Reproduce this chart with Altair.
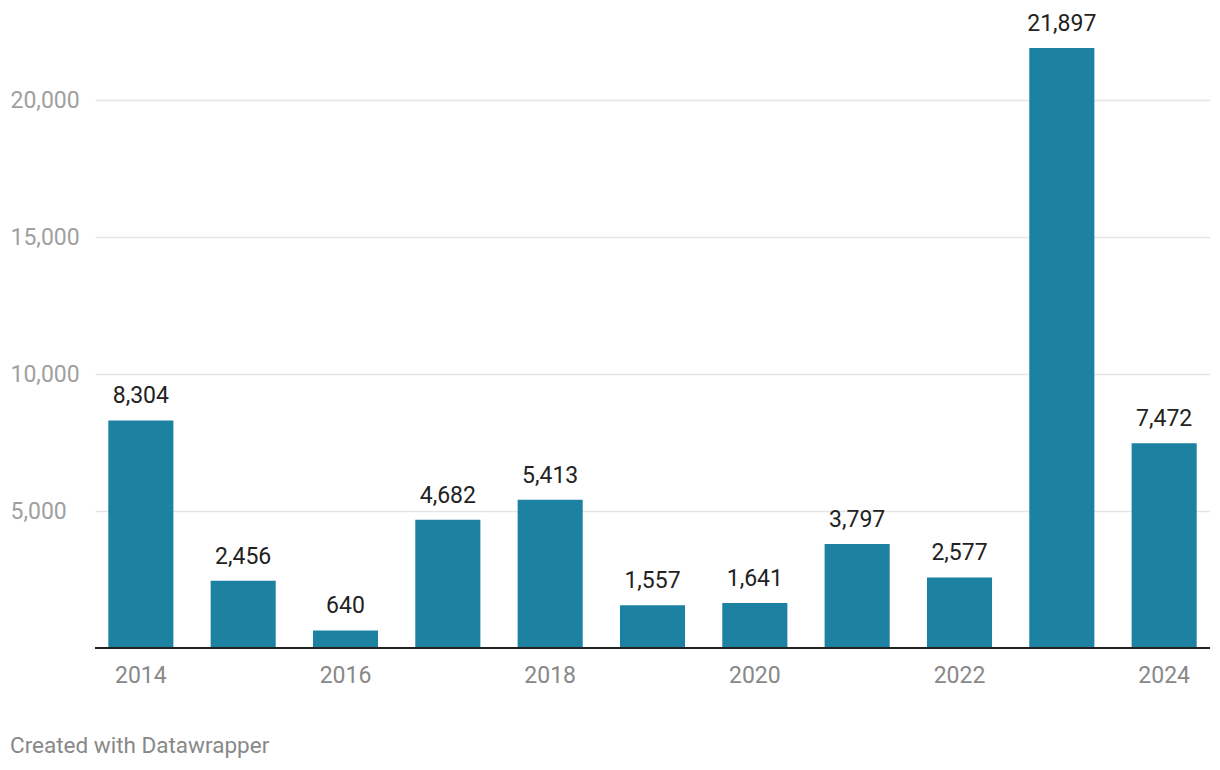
import altair as alt
import pandas as pd

years = ["2014", "2015", "2016", "2017", "2018", "2019", "2020", "2021", "2022", "2023", "2024"]
values = [8304, 2456, 640, 4682, 5413, 1557, 1641, 3797, 2577, 21897, 7472]
value_labels = ["8,304", "2,456", "640", "4,682", "5,413", "1,557", "1,641", "3,797", "2,577", "21,897", "7,472"]
x_tick_labels = ["2014", "2016", "2018", "2020", "2022", "2024"]
y_tick_values = [5000, 10000, 15000, 20000]

df = pd.DataFrame({"year": years, "value": values, "label": value_labels})

FONT = "Roboto"

x_enc = alt.X(
    "year:N",
    sort=years,
    scale=alt.Scale(paddingInner=0.364, paddingOuter=0.13),
    axis=alt.Axis(
        values=x_tick_labels, labelAngle=0, title=None, domain=False, ticks=False,
        labelFontSize=23, labelColor="#888888", labelPadding=16, labelFont=FONT, grid=False,
    ),
)
y_enc = alt.Y(
    "value:Q",
    scale=alt.Scale(domain=[0, 23358], nice=False, zero=True),
    axis=alt.Axis(
        values=y_tick_values, format=",d", title=None, domain=False, ticks=False,
        labelAlign="left", labelPadding=85, labelFontSize=23, labelColor="#a0a0a0",
        labelFont=FONT, labelBaseline="middle", grid=True, gridColor="#e5e5e5", gridWidth=1.5,
    ),
)

bars = alt.Chart(df).mark_bar(color="#1d81a2").encode(x=x_enc, y=y_enc)
texts = alt.Chart(df).mark_text(
    dy=-17, baseline="alphabetic", fontSize=23, color="#222222", font=FONT
).encode(x=x_enc, y=y_enc, text="label:N")
base_rule = alt.Chart(df).mark_rule(color="#222222", strokeWidth=2).encode(y=alt.datum(0))

chart = (
    alt.layer(bars, base_rule, texts)
    .properties(
        width=1115,
        height=640,
        autosize=alt.AutoSizeParams(type="none"),
        padding={"left": 87, "top": 0, "right": 0, "bottom": 118},
        title=alt.TitleParams(
            text="Created with Datawrapper", orient="bottom", anchor="start",
            offset=48, fontSize=22.5, fontWeight="normal", color="#888888", font=FONT,
        ),
    )
    .configure_view(stroke=None)
)

chart.save("out.html", embed_options={"renderer": "svg", "actions": False})
